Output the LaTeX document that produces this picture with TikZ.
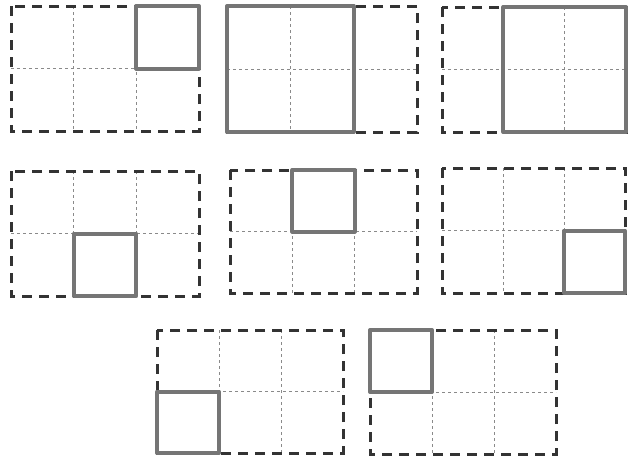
\documentclass[tikz,border=0pt]{standalone}
\usetikzlibrary{calc}
\definecolor{outc}{HTML}{333333}
\definecolor{inc}{HTML}{8A8A8A}
\definecolor{hlc}{HTML}{757575}
\tikzset{
  outerline/.style={draw=outc, line width=3pt, dash pattern=on 10pt off 7pt},
  innerline/.style={draw=inc, line width=0.9pt, dash pattern=on 3pt off 3pt},
  hl/.style={draw=hlc, line width=4pt, line join=round, line cap=round}
}
\newcommand\drawpanel[8]{%
  \pgfmathsetmacro\pnlw{(#3-#1)/3}%
  \pgfmathsetmacro\pnlh{(#4-#2)/2}%
  \draw[innerline] ({#1+\pnlw},#2) -- ({#1+\pnlw},#4);
  \draw[innerline] ({#1+2*\pnlw},#2) -- ({#1+2*\pnlw},#4);
  \draw[innerline] (#1,{#2+\pnlh}) -- (#3,{#2+\pnlh});
  \draw[outerline] (#1,#2) rectangle (#3,#4);
  \draw[hl] ({#1+#5*\pnlw},{#2+#6*\pnlh}) rectangle ({#1+#7*\pnlw},{#2+#8*\pnlh});
}
\begin{document}
\begin{tikzpicture}[x=1pt,y=-1pt]
\useasboundingbox[fill=white] (0,0) rectangle (628,461);
\drawpanel{11}{6}{199}{131}{2}{0}{3}{1}
\drawpanel{227}{6}{417}{132}{0}{0}{2}{2}
\drawpanel{442}{7}{626}{132}{1}{0}{3}{2}
\drawpanel{11}{171}{199}{296}{1}{1}{2}{2}
\drawpanel{230}{170}{417}{293}{1}{0}{2}{1}
\drawpanel{442}{168}{625}{293}{2}{1}{3}{2}
\drawpanel{157}{330}{343}{453}{0}{1}{1}{2}
\drawpanel{370}{330}{556}{454}{0}{0}{1}{1}
\end{tikzpicture}
\end{document}
